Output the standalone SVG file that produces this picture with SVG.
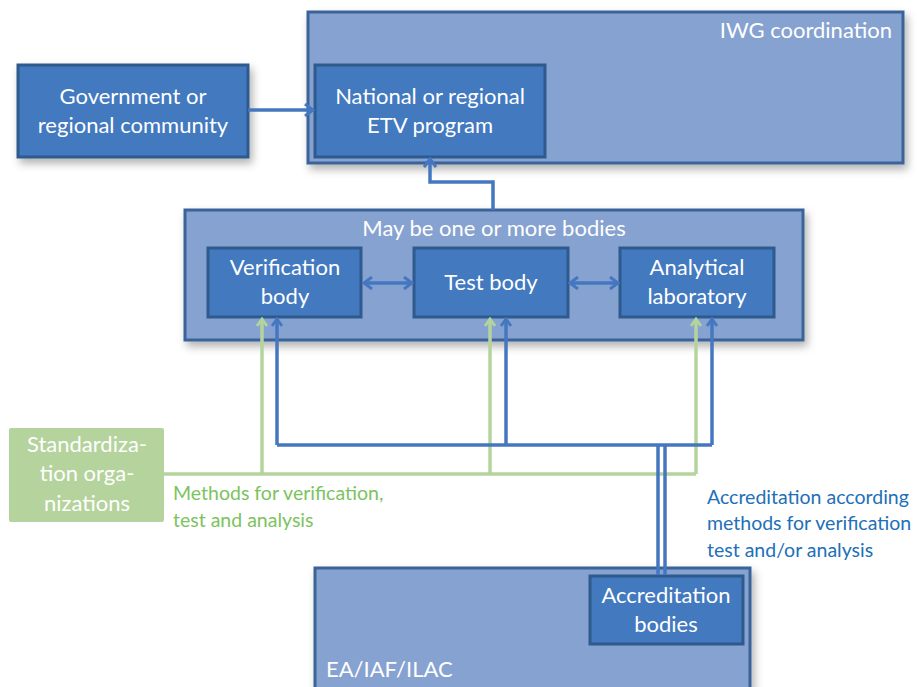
<svg xmlns="http://www.w3.org/2000/svg" width="917" height="687" viewBox="0 0 917 687">
<style>
text{font-family:Lato,"Open Sans","Liberation Sans",sans-serif;}
.outer{fill:#86a2d1;stroke:#3b6398;stroke-width:3;}
.inner{fill:#4279bf;stroke:#2e5a8d;stroke-width:3;}
.wt{fill:#ffffff;font-size:22px;text-anchor:middle;}
.gl{fill:#7cc35e;font-size:19.5px;}
.bl{fill:#2170b8;font-size:19.5px;}
.blue{fill:none;stroke:#4577c0;stroke-width:3.5;}
.green{fill:none;stroke:#b5d49b;stroke-width:3.5;}
</style>
<defs>
<filter id="sh" x="-10%" y="-10%" width="130%" height="140%">
<feDropShadow dx="3" dy="5" stdDeviation="4" flood-color="#000" flood-opacity="0.3"/>
</filter>
<marker id="ab" markerWidth="12" markerHeight="12" viewBox="0 0 12 12" refX="10" refY="6" orient="auto-start-reverse" markerUnits="userSpaceOnUse">
<path d="M3,1 L10,6 L3,11" fill="none" stroke="#4577c0" stroke-width="2.8"/>
</marker>
<marker id="ag" markerWidth="12" markerHeight="12" viewBox="0 0 12 12" refX="10" refY="6" orient="auto" markerUnits="userSpaceOnUse">
<path d="M3,1 L10,6 L3,11" fill="none" stroke="#b5d49b" stroke-width="2.8"/>
</marker>
<marker id="ab2" markerWidth="14" markerHeight="14" viewBox="0 0 14 14" refX="11" refY="7" orient="auto-start-reverse" markerUnits="userSpaceOnUse">
<path d="M3,1 L11,7 L3,13" fill="none" stroke="#4577c0" stroke-width="3"/>
</marker>
</defs>

<g id="iwg">
<rect class="outer" x="308" y="12" width="595" height="151" filter="url(#sh)"/>
<text x="892" y="38" fill="#ffffff" font-size="22" text-anchor="end">IWG coordination</text>
</g>
<g id="government">
<rect class="inner" x="18" y="65" width="230" height="92" filter="url(#sh)"/>
<text class="wt" x="133" y="104">Government or</text>
<text class="wt" x="133" y="133">regional community</text>
</g>
<g id="national">
<rect class="inner" x="315" y="65" width="230" height="92"/>
<text class="wt" x="430" y="104">National or regional</text>
<text class="wt" x="430" y="133">ETV program</text>
</g>
<g id="bodies">
<rect class="outer" x="185" y="210" width="618" height="130" filter="url(#sh)"/>
<text class="wt" x="494" y="236">May be one or more bodies</text>
</g>
<g id="verification">
<rect class="inner" x="208" y="248" width="153" height="69"/>
<text class="wt" x="285" y="275">Verification</text>
<text class="wt" x="285" y="304">body</text>
</g>
<g id="test">
<rect class="inner" x="414" y="248" width="154" height="69"/>
<text class="wt" x="491" y="290">Test body</text>
</g>
<g id="analytical">
<rect class="inner" x="620" y="248" width="154" height="69"/>
<text class="wt" x="697" y="275">Analytical</text>
<text class="wt" x="697" y="304">laboratory</text>
</g>
<g id="standardization">
<rect x="9" y="428" width="155" height="94" rx="2" fill="#b5d39c"/>
<text class="wt" x="87" y="452">Standardiza-</text>
<text class="wt" x="87" y="481">tion orga-</text>
<text class="wt" x="87" y="511">nizations</text>
</g>
<g id="ea">
<rect class="outer" x="315" y="568" width="435" height="130" filter="url(#sh)"/>
<text x="326" y="677" fill="#ffffff" font-size="22">EA/IAF/ILAC</text>
</g>
<g id="accreditation">
<rect class="inner" x="590" y="576" width="153" height="68"/>
<text class="wt" x="666" y="603">Accreditation</text>
<text class="wt" x="666" y="632">bodies</text>
</g>

<g id="connectors">
<path class="blue" d="M248,110 H313" marker-end="url(#ab2)"/>
<path class="blue" d="M493,210 V182 H430 V159" marker-end="url(#ab2)"/>
<path class="blue" d="M364,283 H412" marker-start="url(#ab2)" marker-end="url(#ab2)"/>
<path class="blue" d="M570,283 H618" marker-start="url(#ab2)" marker-end="url(#ab2)"/>
<path class="green" d="M164,474 H696"/>
<path class="green" d="M262,474 V319" marker-end="url(#ag)"/>
<path class="green" d="M490,474 V319" marker-end="url(#ag)"/>
<path class="green" d="M696,474 V319" marker-end="url(#ag)"/>
<path class="blue" d="M277,445 H712"/>
<path class="blue" d="M277,445 V319" marker-end="url(#ab)"/>
<path class="blue" d="M506,445 V319" marker-end="url(#ab)"/>
<path class="blue" d="M712,445 V319" marker-end="url(#ab)"/>
<path class="blue" d="M658,445 V575" stroke-width="3"/>
<path class="blue" d="M665,445 V575" stroke-width="3"/>
</g>

<text class="gl" x="173" y="500">Methods for verification,</text>
<text class="gl" x="173" y="527">test and analysis</text>
<text class="bl" x="707" y="504">Accreditation according</text>
<text class="bl" x="707" y="530">methods for verification</text>
<text class="bl" x="707" y="557">test and/or analysis</text>
</svg>
